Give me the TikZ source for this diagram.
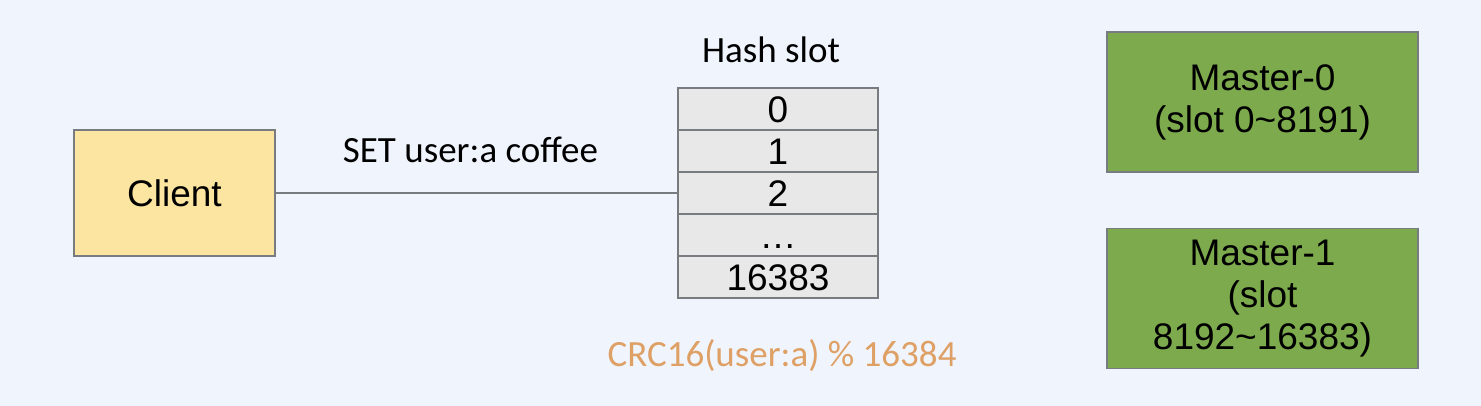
\documentclass[tikz,border=0pt]{standalone}
\usepackage{fontspec}
\setmainfont{Liberation Sans}
\newfontfamily\calibrifont{Carlito}
\definecolor{bg}{RGB}{240,244,253}
\definecolor{bordergray}{RGB}{120,124,128}
\definecolor{clientfill}{RGB}{252,229,160}
\definecolor{masterfill}{RGB}{124,170,76}
\definecolor{rowfill}{RGB}{232,232,232}
\definecolor{crc}{RGB}{222,160,100}
\begin{document}
\begin{tikzpicture}[x=1pt,y=-1pt,
  box/.style={draw=bordergray, line width=1.3pt, inner sep=0pt, outer sep=0pt, font=\fontsize{37}{42}\selectfont},
  clientbox/.style={box, fill=clientfill, minimum width=201pt, minimum height=126pt},
  masterbox/.style={box, fill=masterfill, minimum width=311pt, minimum height=140pt, align=center},
  slotrow/.style={box, fill=rowfill, minimum width=200pt, minimum height=42pt, text height=26.5pt, text depth=0pt},
  caltext/.style={font=\calibrifont\fontsize{37}{42}\selectfont, inner sep=0pt, text=black}
]
\fill[bg] (0,0) rectangle (1481,406);
\useasboundingbox (0,0) rectangle (1481,406);

\node[clientbox] (client) at (174.5,193) {Client};

\node[slotrow] (r0) at (778,109) {0};
\node[slotrow] (r1) at (778,151) {1};
\node[slotrow] (r2) at (778,193) {2};
\node[slotrow] (r3) at (778,235) {\dots};
\node[slotrow] (r4) at (778,277) {16383};

\node[caltext, anchor=base] (hs) at (771,63) {Hash slot};

\draw[bordergray, line width=1.3pt] (client.east) -- (r2.west)
  node[caltext, pos=0.485, anchor=base, yshift=30pt] (cmd) {SET user:a coffee};

\node[caltext, text=crc, anchor=base] (crc) at (782,366) {CRC16(user:a) \% 16384};

\node[masterbox] (m0) at (1262.5,102) {Master-0\\(slot 0\textasciitilde 8191)};
\node[masterbox] (m1) at (1262.5,298.5) {Master-1\\(slot\\8192\textasciitilde 16383)};
\end{tikzpicture}
\end{document}
